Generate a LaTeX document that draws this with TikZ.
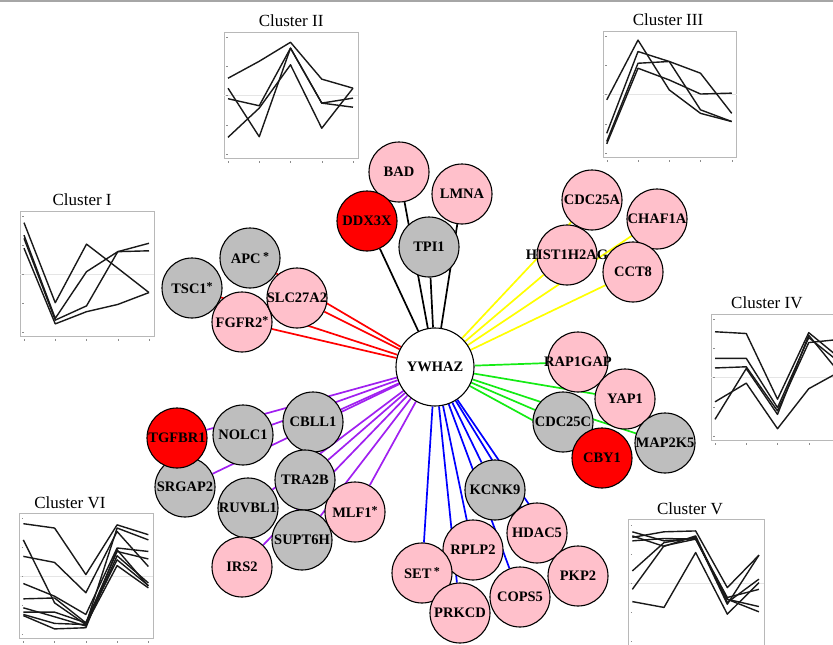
\documentclass[tikz,border=0pt]{standalone}
\usepackage{fontspec}
\setmainfont{Liberation Serif}
\usetikzlibrary{backgrounds}

\definecolor{genepink}{RGB}{255,192,203}
\definecolor{genegray}{RGB}{190,190,190}
\definecolor{genered}{RGB}{255,0,0}
\definecolor{lnred}{RGB}{255,0,0}
\definecolor{lnyellow}{RGB}{255,255,0}
\definecolor{lngreen}{RGB}{20,235,20}
\definecolor{lnblue}{RGB}{0,0,255}
\definecolor{lnpurple}{RGB}{160,32,240}

% raised asterisk after a gene name
\newcommand{\genestar}{\raisebox{3.5pt}{\fontsize{12}{12}\selectfont *}}

% frame, ticks and title of one cluster plot (local units: 1..5)
\newcommand{\clusterframe}[3]{%
  \draw[frame] (0.88,0.85) rectangle (5.16,5.17);
  \draw[black!10, line width=0.5pt] (0.88,3) -- (5.16,3);
  \foreach \k in {1,...,5} {
    \draw[black!45, line width=0.4pt] (0.95,\k) -- (1.0,\k);
    \draw[black!45, line width=0.4pt] (\k,0.76) -- (\k,0.69);
  }
  \node[title] (#1) at (#2,5.55) {#3};
}

\begin{document}
\begin{tikzpicture}[
    x=1pt, y=-1pt,
    gene/.style={circle, draw, line width=1.1pt, fill=#1, minimum size=60pt,
      inner sep=0pt, font=\fontsize{14.5}{14.5}\selectfont\bfseries,
      execute at begin node={\hbox to 0pt\bgroup\hss},
      execute at end node={\hss\egroup}},
    hub/.style={gene=white, minimum size=78pt},
    link/.style={draw=#1, line width=1.7pt},
    frame/.style={draw=black!28, line width=0.7pt},
    series/.style={black!90, line width=1.4pt, line join=round},
    title/.style={font=\fontsize{17}{17}\selectfont, inner sep=0pt}
  ]
  \useasboundingbox (0,0) rectangle (833,645);
  \clip (0,0) rectangle (833,645);
  \draw[black!35, line width=1.5pt] (0,0.75) -- (833,0.75);

  % cluster plots
  \begin{scope}[shift={(-7.25,361)}, x=31.25pt, y=29pt]
    \clusterframe{titleI}{2.86}{Cluster I}
    \draw[series] (1,4.77) -- (2,2.01) -- (3,4.03) -- (4,3.20) -- (5,2.36);
    \draw[series] (1,4.34) -- (2,1.47) -- (3,3.08) -- (4,3.77) -- (5,4.06);
    \draw[series] (1,4.23) -- (2,1.41) -- (3,1.90) -- (4,3.77) -- (5,3.80);
    \draw[series] (1,3.89) -- (2,1.28) -- (3,1.70) -- (4,1.95) -- (5,2.36);
  \end{scope}
  \begin{scope}[shift={(196.75,183.25)}, x=31.25pt, y=29.25pt]
    \clusterframe{titleII}{3.02}{Cluster II}
    \draw[series] (1,3.59) -- (2,4.17) -- (3,4.82) -- (4,3.56) -- (5,3.25);
    \draw[series] (1,3.25) -- (2,1.59) -- (3,4.62) -- (4,2.74) -- (5,2.91);
    \draw[series] (1,2.89) -- (2,2.65) -- (3,4.62) -- (4,2.74) -- (5,2.60);
    \draw[series] (1,1.57) -- (2,2.57) -- (3,4.05) -- (4,1.88) -- (5,3.25);
  \end{scope}
  \begin{scope}[shift={(575.5,182.5)}, x=31.25pt, y=29.3pt]
    \clusterframe{titleIII}{2.96}{Cluster III}
    \draw[series] (1,2.82) -- (2,4.86) -- (3,3.16) -- (4,2.36) -- (5,2.08);
    \draw[series] (1,1.68) -- (2,4.47) -- (3,4.13) -- (4,3.73) -- (5,2.36);
    \draw[series] (1,1.40) -- (2,4.07) -- (3,4.13) -- (4,2.48) -- (5,2.08);
    \draw[series] (1,1.32) -- (2,3.90) -- (3,3.50) -- (4,3.02) -- (5,3.05);
  \end{scope}
  \begin{scope}[shift={(683.75,465.2)}, x=31.25pt, y=29.2pt]
    \clusterframe{titleIV}{2.66}{Cluster IV}
    \draw[series] (1,4.57) -- (2,4.51) -- (3,2.26) -- (4,4.54) -- (5,3.66);
    \draw[series] (1,3.66) -- (2,3.66) -- (3,1.97) -- (4,4.37) -- (5,3.51);
    \draw[series] (1,3.33) -- (2,3.37) -- (3,1.86) -- (4,4.20) -- (5,4.31);
    \draw[series] (1,2.17) -- (2,2.81) -- (3,1.25) -- (4,2.62) -- (5,3.21);
    \draw[series] (1,1.57) -- (2,3.31) -- (3,1.74) -- (4,4.45) -- (5,3.14);
  \end{scope}
  \begin{scope}[shift={(600.7,670.8)}, x=31.65pt, y=29.2pt]
    \clusterframe{titleV}{2.82}{Cluster V}
    \draw[series] (1,4.76) -- (2,4.45) -- (3,4.53) -- (4,2.45) -- (5,2.20);
    \draw[series] (1,4.62) -- (2,4.26) -- (3,4.62) -- (4,2.34) -- (5,3.14);
    \draw[series] (1,4.57) -- (2,4.76) -- (3,4.79) -- (4,2.85) -- (5,3.96);
    \draw[series] (1,4.45) -- (2,4.53) -- (3,4.51) -- (4,2.51) -- (5,2.79);
    \draw[series] (1,3.42) -- (2,4.39) -- (3,4.57) -- (4,2.28) -- (5,3.96);
    \draw[series] (1,2.79) -- (2,4.28) -- (3,4.51) -- (4,2.45) -- (5,2.02);
    \draw[series] (1,2.37) -- (2,2.17) -- (3,4.05) -- (4,1.94) -- (5,3.02);
  \end{scope}
  \begin{scope}[shift={(-7.9,663)}, x=31.25pt, y=28.9pt]
    \clusterframe{titleVI}{2.49}{Cluster VI}
    \draw[series] (1,4.82) -- (2,4.67) -- (3,3.06) -- (4,4.78) -- (5,4.44);
    \draw[series] (1,4.26) -- (2,2.08) -- (3,1.33) -- (4,4.67) -- (5,4.26);
    \draw[series] (1,3.69) -- (2,3.48) -- (3,2.43) -- (4,4.55) -- (5,3.34);
    \draw[series] (1,2.75) -- (2,2.31) -- (3,1.68) -- (4,3.98) -- (5,3.86);
    \draw[series] (1,2.22) -- (2,2.25) -- (3,1.39) -- (4,3.86) -- (5,3.60);
    \draw[series] (1,1.91) -- (2,1.60) -- (3,1.28) -- (4,3.71) -- (5,2.77);
    \draw[series] (1,1.76) -- (2,1.76) -- (3,1.39) -- (4,3.57) -- (5,2.68);
    \draw[series] (1,1.68) -- (2,1.37) -- (3,1.33) -- (4,3.37) -- (5,2.60);
    \draw[series] (1,1.64) -- (2,1.18) -- (3,1.22) -- (4,3.92) -- (5,2.66);
  \end{scope}

  % hub
  \node[hub] (ywhaz) at (435,367) {YWHAZ};

  % black group
  \node[gene=genepink] (bad) at (399,172) {BAD};
  \node[gene=genepink] (lmna) at (462,194) {LMNA};
  \node[gene=genered] (ddx3x) at (367,221) {DDX3X};
  \node[gene=genegray] (tpi1) at (429,247) {TPI1};

  % red group
  \node[gene=genegray] (apc) at (250,258) {APC\,\genestar};
  \node[gene=genepink] (fgfr2) at (242,322) {FGFR2\genestar};
  \node[gene=genegray] (tsc1) at (192,288) {TSC1\genestar};
  \node[gene=genepink] (slc27a2) at (297,298) {SLC27A2};

  % yellow group
  \node[gene=genepink] (cdc25a) at (592,200) {CDC25A};
  \node[gene=genepink] (chaf1a) at (657,219) {CHAF1A};
  \node[gene=genepink] (hist) at (567,255) {HIST1H2AG};
  \node[gene=genepink] (cct8) at (633,272) {CCT8};

  % green group
  \node[gene=genepink] (rap1gap) at (578,362) {RAP1GAP};
  \node[gene=genepink] (yap1) at (625,399) {YAP1};
  \node[gene=genegray] (cdc25c) at (563,422) {CDC25C};
  \node[gene=genered] (cby1) at (602,458) {CBY1};
  \node[gene=genegray] (map2k5) at (665,443) {MAP2K5};

  % purple group
  \node[gene=genegray] (srgap2) at (185,487) {SRGAP2};
  \node[gene=genered] (tgfbr1) at (177,438) {TGFBR1};
  \node[gene=genegray] (nolc1) at (243,435) {NOLC1};
  \node[gene=genegray] (cbll1) at (313,422) {CBLL1};
  \node[gene=genegray] (ruvbl1) at (248,508) {RUVBL1};
  \node[gene=genepink] (mlf1) at (355,512) {MLF1\genestar};
  \node[gene=genegray] (tra2b) at (305,480) {TRA2B};
  \node[gene=genepink] (irs2) at (242,567) {IRS2};
  \node[gene=genegray] (supt6h) at (302,540) {SUPT6H};

  % blue group
  \node[gene=genepink] (hdac5) at (537,533) {HDAC5};
  \node[gene=genegray] (kcnk9) at (495,490) {KCNK9};
  \node[gene=genepink] (rplp2) at (473,550) {RPLP2};
  \node[gene=genepink] (set) at (422,573) {SET\,\genestar};
  \node[gene=genepink] (prkcd) at (460,613) {PRKCD};
  \node[gene=genepink] (cops5) at (520,597) {COPS5};
  \node[gene=genepink] (pkp2) at (578,576) {PKP2};

  \begin{scope}[on background layer]
    \foreach \n in {bad,lmna,ddx3x,tpi1}
      \draw[link=black] (ywhaz) -- (\n);
    \foreach \n in {apc,fgfr2,tsc1,slc27a2}
      \draw[link=lnred] (ywhaz) -- (\n);
    \foreach \n in {cdc25a,chaf1a,hist,cct8}
      \draw[link=lnyellow] (ywhaz) -- (\n);
    \foreach \n in {rap1gap,yap1,cdc25c,cby1,map2k5}
      \draw[link=lngreen] (ywhaz) -- (\n);
    \foreach \n in {srgap2,tgfbr1,nolc1,cbll1,ruvbl1,mlf1,tra2b,irs2,supt6h}
      \draw[link=lnpurple] (ywhaz) -- (\n);
    \foreach \n in {hdac5,kcnk9,rplp2,set,prkcd,cops5,pkp2}
      \draw[link=lnblue] (ywhaz) -- (\n);
  \end{scope}
\end{tikzpicture}
\end{document}
